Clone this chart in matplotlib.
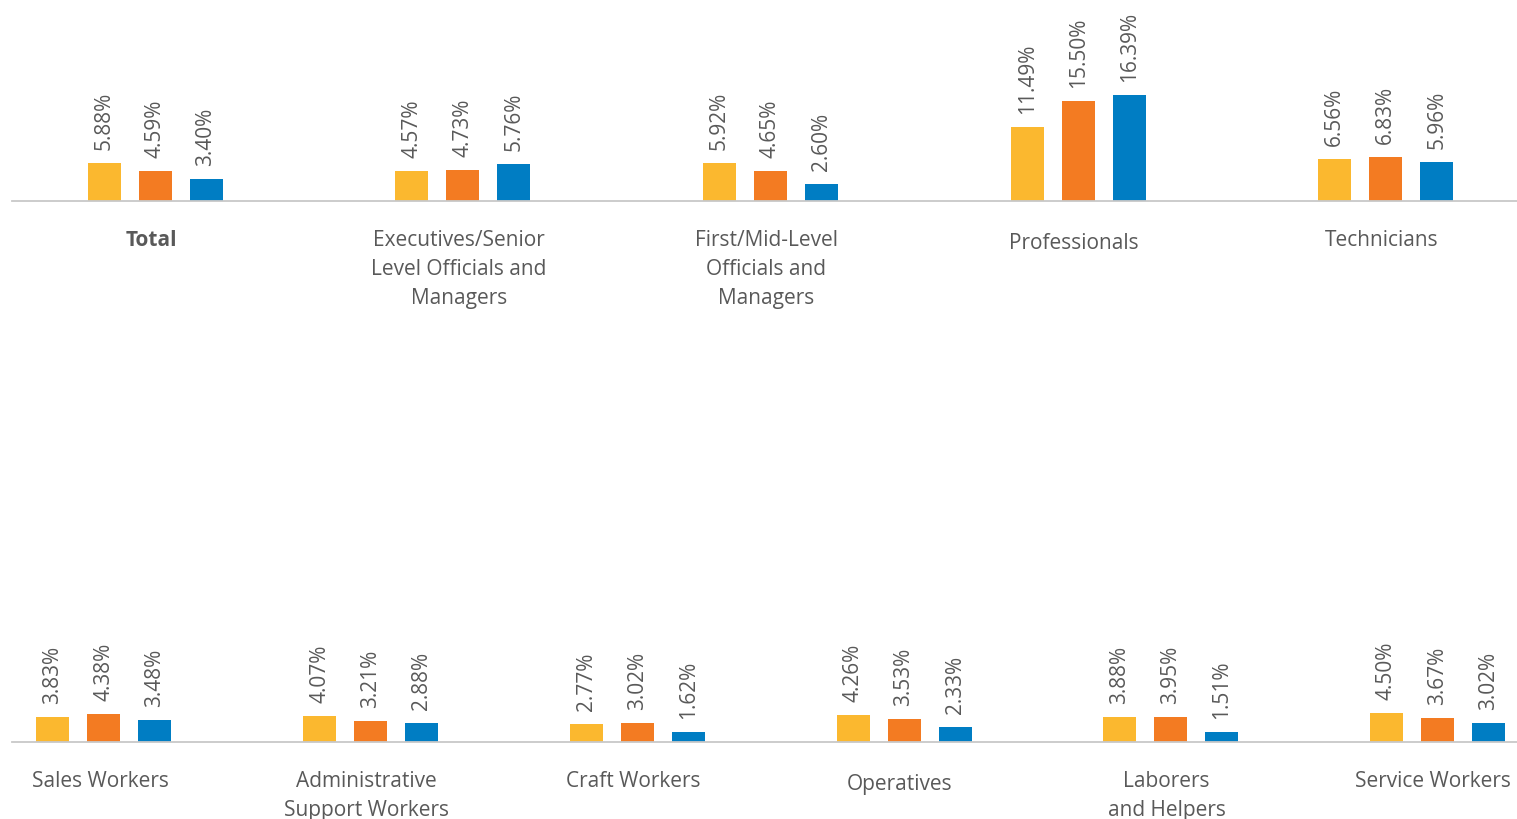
import numpy as np
import matplotlib.pyplot as plt

plt.rcParams['font.family'] = ['Open Sans', 'DejaVu Sans']

# top row
top_cats = ["Total", "Executives/Senior\nLevel Officials and\nManagers",
            "First/Mid-Level\nOfficials and\nManagers", "Professionals", "Technicians"]
top_s1 = [5.88, 4.57, 5.92, 11.49, 6.56]
top_s2 = [4.59, 4.73, 4.65, 15.50, 6.83]
top_s3 = [3.40, 5.76, 2.60, 16.39, 5.96]

# bottom row
bot_cats = ["Sales Workers", "Administrative\nSupport Workers", "Craft Workers",
            "Operatives", "Laborers\nand Helpers", "Service Workers"]
bot_s1 = [3.83, 4.07, 2.77, 4.26, 3.88, 4.50]
bot_s2 = [4.38, 3.21, 3.02, 3.53, 3.95, 3.67]
bot_s3 = [3.48, 2.88, 1.62, 2.33, 1.51, 3.02]

colors = ["#FBB82F", "#F37B22", "#007DC3"]
text_col = "#595959"

fig = plt.figure(figsize=(15.17, 8.2), dpi=100)
ax1 = fig.add_axes([0.0079, 0.7537, 0.992, 0.244])
ax2 = fig.add_axes([0.0079, 0.0939, 0.992, 0.244])


def draw(ax, cats, series, spacing, xlim, label_offsets):
    x = np.arange(len(cats))
    w = 33 / spacing
    step = 51 / spacing
    for k, vals in enumerate(series):
        pos = x + (k - 1) * step
        bars = ax.bar(pos, vals, width=w, color=colors[k], zorder=2)
        for b, v in zip(bars, vals):
            ax.annotate("%.2f%%" % v, xy=(b.get_x() + b.get_width() / 2, v),
                        xytext=(0, 14), textcoords='offset pixels',
                        rotation=90, ha='center', va='bottom',
                        fontsize=15, color=text_col)
    for i, c in enumerate(cats):
        ax.annotate(c, xy=(x[i], 0), xytext=(-4, label_offsets[i]),
                    textcoords='offset pixels', ha='center', va='top',
                    fontsize=15, color=text_col, linespacing=1.5,
                    fontweight='bold' if c == "Total" else 'normal',
                    annotation_clip=False)
    ax.set_xlim(*xlim)
    ax.set_ylim(0, 31)
    for s in ['top', 'left', 'right']:
        ax.spines[s].set_visible(False)
    ax.spines['bottom'].set_color('#c8c8c8')
    ax.spines['bottom'].set_linewidth(1.3)
    ax.set_xticks([])
    ax.set_yticks([])
    ax.patch.set_alpha(0)


draw(ax1, top_cats, [top_s1, top_s2, top_s3], 307.7, (-0.465, 4.426),
     [-28, -28, -28, -31, -28])
draw(ax2, bot_cats, [bot_s1, bot_s2, bot_s3], 266.7, (-0.345, 5.298),
     [-28, -28, -28, -31, -28, -28])

fig.savefig("out.png", dpi=100)
